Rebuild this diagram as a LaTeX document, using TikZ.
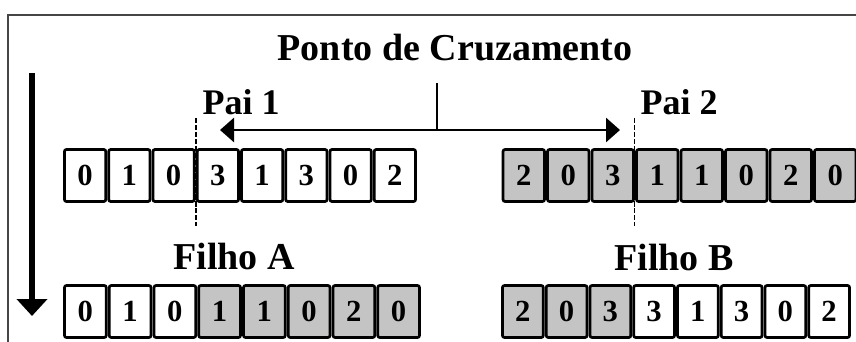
\documentclass[tikz,border=0pt]{standalone}
\usepackage{fontspec}
\setmainfont{Liberation Serif}
\usetikzlibrary{arrows.meta,positioning,calc}
\definecolor{genegray}{RGB}{196,196,196}
\definecolor{framegray}{RGB}{70,70,70}

\begin{document}
\begin{tikzpicture}[
  x=0.75pt, y=-0.75pt,
  gene/.style={draw, line width=2pt, rounded corners=1.5pt, inner sep=0pt,
               minimum height=39pt, font=\fontsize{23}{23}\selectfont\bfseries},
  cutline/.style={draw, line width=1.2pt, dash pattern=on 4pt off 1.2pt},
  arr/.style={-{Triangle[length=10.5pt,width=18pt]}, line width=2.2pt},
  flow/.style={-{Triangle[length=12.75pt,width=22.5pt]}, line width=4.5pt},
  tag/.style={anchor=base, font=\fontsize{27}{27}\selectfont\bfseries}
]
\useasboundingbox (0,0) rectangle (856,342);
\draw[framegray, line width=1.2pt] (870,15) -- (8,15) -- (8,360);

% text
\node[tag, font=\fontsize{28.5}{28.5}\selectfont\bfseries] (title) at (455,61) {Ponto de Cruzamento};
\node[tag] (pai1) at (241,115) {Pai 1};
\node[tag] (pai2) at (679,115) {Pai 2};
\node[tag, font=\fontsize{28.5}{28.5}\selectfont\bfseries] (filhoA) at (234,269) {Filho A};
\node[tag, font=\fontsize{28.5}{28.5}\selectfont\bfseries] (filhoB) at (674,270) {Filho B};

% ponto de corte
\coordinate (cut1) at (196,148);
\coordinate (cut2) at (634.5,148);
\draw[cutline] ($(cut1)+(0,-30)$) -- ($(cut1)+(0,78)$);
\draw[cutline] ($(cut2)+(0,-30)$) -- ($(cut2)+(0,78)$);

% cromossomos
\foreach \d [count=\i] in {0,1,0,3,1,3,0,2}
  \node[gene, fill=white, minimum width=31pt] (p1c\i) at ({63+(\i-0.5)*44.25},175.5) {\d};
\foreach \d [count=\i] in {2,0,3,1,1,0,2,0}
  \node[gene, fill=genegray, minimum width=31.1pt] (p2c\i) at ({501.5+(\i-0.5)*44.5},175.5) {\d};
\foreach \d/\f [count=\i] in {0/white,1/white,0/white,1/genegray,1/genegray,0/genegray,2/genegray,0/genegray}
  \node[gene, fill=\f, minimum width=31.3pt] (fAc\i) at ({63+(\i-0.5)*44.75},311.5) {\d};
\foreach \d/\f [count=\i] in {2/genegray,0/genegray,3/genegray,3/white,1/white,3/white,0/white,2/white}
  \node[gene, fill=\f, minimum width=30.6pt] (fBc\i) at ({501+(\i-0.5)*43.75},311.5) {\d};

% setas
\coordinate (tick) at (437,83);
\coordinate (mid) at (437,130);
\coordinate (tipL) at (220,130);
\coordinate (tipR) at (620,130);
\draw[line width=2.2pt] (tick) -- (mid);
\draw[arr] (mid) -- (tipL);
\draw[arr] (mid) -- (tipR);

\coordinate (flowtop) at (32,73);
\coordinate (flowend) at (32,316);
\draw[flow] (flowtop) -- (flowend);
\end{tikzpicture}
\end{document}
